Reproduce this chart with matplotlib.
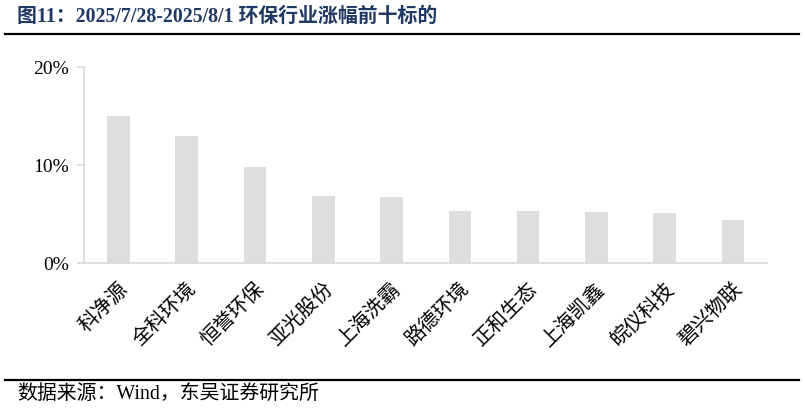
import numpy as np
import matplotlib
matplotlib.use('Agg')
import matplotlib.pyplot as plt
from matplotlib.lines import Line2D
from matplotlib.ticker import FuncFormatter

names = ['科净源', '全科环境', '恒誉环保', '亚光股份', '上海洗霸',
         '路德环境', '正和生态', '上海凯鑫', '皖仪科技', '碧兴物联']
gains = [15.0, 13.0, 9.8, 6.85, 6.8, 5.35, 5.3, 5.2, 5.1, 4.4]  # %
yticks = [0, 10, 20]

serif_cjk = ['Liberation Serif', 'Noto Sans CJK SC']
axis_col = '#d9d9d9'

fig = plt.figure(figsize=(8.05, 4.13), dpi=100)
ax = fig.add_axes([0.1047, 0.3625, 0.8483, 0.4745])

x = np.arange(len(names))
ax.bar(x, gains, width=0.33, color='#dedede')
ax.set_xlim(-0.5, len(names) - 0.5)
ax.set_ylim(0, 20)
ax.set_yticks(yticks)
ax.yaxis.set_major_formatter(FuncFormatter(lambda v, p: '%d%%' % v))

for s in ['top', 'right']:
    ax.spines[s].set_visible(False)
for s in ['left', 'bottom']:
    ax.spines[s].set_color(axis_col)
    ax.spines[s].set_linewidth(1.2)

ax.tick_params(axis='y', length=5, width=1.2, color=axis_col, pad=6)
ax.tick_params(axis='x', length=0, pad=12)
for lab in ax.get_yticklabels():
    lab.set_family('Liberation Serif')
    lab.set_fontsize(14)

ax.set_xticks(x)
ax.set_xticklabels(names, rotation=45, ha='right', rotation_mode='anchor',
                   family=serif_cjk, fontsize=14.5)

# title and source
fig.text(0.021, 0.959, '图11：2025/7/28-2025/8/1 环保行业涨幅前十标的',
         family=serif_cjk, fontsize=14.3, fontweight='bold', color='#1f3864',
         ha='left', va='center')
fig.add_artist(Line2D([0.006, 0.993], [0.9177, 0.9177], color='black', lw=1.6))
fig.add_artist(Line2D([0.006, 0.993], [0.08, 0.08], color='black', lw=1.6))
fig.text(0.021, 0.046, '数据来源：Wind，东吴证券研究所', family=serif_cjk,
         fontsize=14.3, ha='left', va='center')

plt.savefig('out.png', dpi=100)
